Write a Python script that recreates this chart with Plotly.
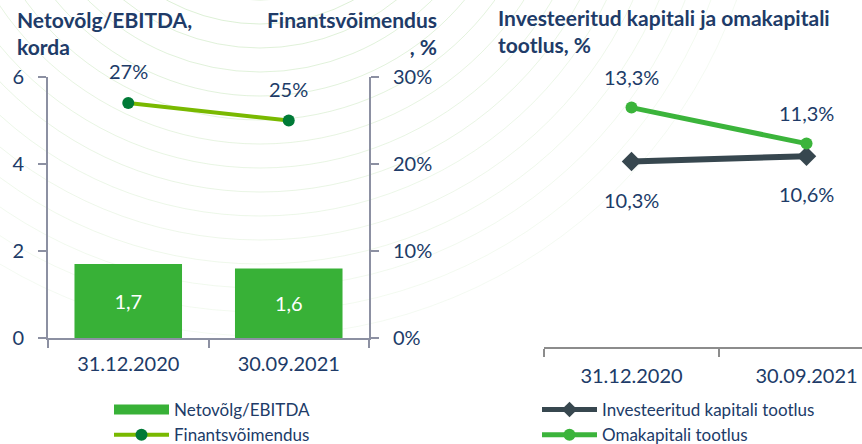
import plotly.graph_objects as go

# ---- data -------------------------------------------------------------
categories = ["31.12.2020", "30.09.2021"]
net_debt_ebitda = [1.7, 1.6]          # Netovõlg/EBITDA, korda
leverage_pct = [27, 25]               # Finantsvõimendus, %
roic_pct = [10.3, 10.6]               # Investeeritud kapitali tootlus, %
roe_pct = [13.3, 11.3]                # Omakapitali tootlus, %

# ---- style ------------------------------------------------------------
W, H = 862, 444
FONT = "Lato"
NAVY = "#203b68"
AXIS = "#8c90a2"
AXIS_R = "#8c8c8c"
BAR_GREEN = "#38b137"
LEV_LINE = "#79b900"
LEV_MARK = "#007a37"
ROE_GREEN = "#3bb43b"
ROIC_DARK = "#37474f"


def px(x):
    return x / W


def py(y):
    return 1 - y / H


def fmt(v, pct=False):
    if pct and float(v).is_integer():
        s = f"{int(v)}"
    else:
        s = f"{v:.1f}".replace(".", ",")
    return s + ("%" if pct else "")


fig = go.Figure()

# left panel: bars + leverage line on the secondary axis
fig.add_trace(go.Bar(
    x=categories, y=net_debt_ebitda, xaxis="x", yaxis="y",
    width=0.67, marker=dict(color=BAR_GREEN, line=dict(width=0)),
    text=[fmt(v) for v in net_debt_ebitda], textposition="inside",
    insidetextanchor="middle", textangle=0,
    textfont=dict(family=FONT, size=20, color="white"),
    showlegend=False, hoverinfo="skip",
))
# legend entry for the bars (wide swatch)
fig.add_trace(go.Scatter(
    x=[None], y=[None], xaxis="x", yaxis="y", mode="lines",
    line=dict(color=BAR_GREEN, width=12), name="Netovõlg/EBITDA",
    legend="legend",
))
fig.add_trace(go.Scatter(
    x=categories, y=leverage_pct, xaxis="x", yaxis="y2",
    mode="lines+markers", name="Finantsvõimendus", legend="legend",
    line=dict(color=LEV_LINE, width=4),
    marker=dict(color=LEV_MARK, size=12),
    hoverinfo="skip",
))

# right panel: return lines
fig.add_trace(go.Scatter(
    x=categories, y=roic_pct, xaxis="x3", yaxis="y3",
    mode="lines+markers", name="Investeeritud kapitali tootlus",
    legend="legend2",
    line=dict(color=ROIC_DARK, width=6),
    marker=dict(color=ROIC_DARK, size=15, symbol="diamond"),
    hoverinfo="skip",
))
fig.add_trace(go.Scatter(
    x=categories, y=roe_pct, xaxis="x3", yaxis="y3",
    mode="lines+markers", name="Omakapitali tootlus",
    legend="legend2",
    line=dict(color=ROE_GREEN, width=5),
    marker=dict(color=ROE_GREEN, size=12),
    hoverinfo="skip",
))

# value labels
label_font = dict(family=FONT, size=20, color=NAVY)
annotations = []
for c, v in zip(categories, leverage_pct):
    annotations.append(dict(x=c, y=v, xref="x", yref="y2", text=fmt(v, pct=True),
                            showarrow=False, yshift=32, font=label_font))
for c, v in zip(categories, roe_pct):
    annotations.append(dict(x=c, y=v, xref="x3", yref="y3", text=fmt(v, pct=True),
                            showarrow=False, yshift=31, font=label_font))
for c, v in zip(categories, roic_pct):
    annotations.append(dict(x=c, y=v, xref="x3", yref="y3", text=fmt(v, pct=True),
                            showarrow=False, yshift=-38, font=label_font))

# panel titles
title_font = dict(family=FONT, size=21, color=NAVY, weight="bold")
annotations += [
    dict(x=px(15), y=py(5), xref="paper", yref="paper", xanchor="left", yanchor="top",
         align="left", showarrow=False, text="Netovõlg/EBITDA,<br>korda", font=title_font),
    dict(x=px(439), y=py(5), xref="paper", yref="paper", xanchor="right", yanchor="top",
         align="right", showarrow=False, text="Finantsvõimendus<br>, %", font=title_font),
    dict(x=px(496), y=py(3), xref="paper", yref="paper", xanchor="left", yanchor="top",
         align="left", showarrow=False,
         text="Investeeritud kapitali ja omakapitali<br>tootlus, %", font=title_font),
]

# faint decorative arcs in the background
shapes = []
cx, cy = 260, -170
for i, r in enumerate(range(170, 520, 24)):
    alpha = max(0.07, 0.26 - i * 0.013)
    shapes.append(dict(
        type="circle", xref="paper", yref="paper", layer="below",
        x0=px(cx - r), x1=px(cx + r), y0=py(cy + r), y1=py(cy - r),
        line=dict(color=f"rgba(120,195,90,{alpha:.2f})", width=1),
    ))

tick_font = dict(family=FONT, size=20, color=NAVY)
axis_common = dict(showgrid=False, zeroline=False, showline=True, automargin=False,
                   ticks="outside", ticklen=8, tickfont=tick_font, fixedrange=True)
legend_common = dict(xanchor="left", yanchor="bottom", y=-9 / H, itemwidth=55,
                     tracegroupgap=0, bgcolor="rgba(0,0,0,0)",
                     font=dict(family=FONT, size=17, color=NAVY), itemclick=False)

fig.update_layout(
    width=W, height=H,
    margin=dict(l=0, r=0, t=0, b=0, autoexpand=False),
    paper_bgcolor="white", plot_bgcolor="rgba(0,0,0,0)",
    font=dict(family=FONT, color=NAVY),
    annotations=annotations,
    shapes=shapes,
    xaxis=dict(domain=[px(48), px(369)], type="category", range=[-0.5, 1.5],
               tickson="boundaries", anchor="y", linecolor=AXIS, linewidth=2,
               tickcolor=AXIS, tickwidth=2, ticklabelstandoff=7, **axis_common),
    yaxis=dict(domain=[py(338), py(77)], range=[0, 6], dtick=2, anchor="x",
               linecolor=AXIS, linewidth=2, tickcolor=AXIS, tickwidth=2,
               ticklabelstandoff=10, **axis_common),
    yaxis2=dict(overlaying="y", side="right", range=[0, 30], dtick=10,
                ticksuffix="%", anchor="x", linecolor=AXIS, linewidth=2,
                tickcolor=AXIS, tickwidth=2, ticklabelstandoff=10, **axis_common),
    xaxis3=dict(domain=[px(544), 1.0], type="category", range=[-0.5, 1.317],
                tickson="boundaries", anchor="y3", linecolor=AXIS_R, linewidth=2,
                tickcolor=AXIS_R, tickwidth=2, ticklabelstandoff=10, **axis_common),
    yaxis3=dict(domain=[py(347), py(95)], range=[0, 14], anchor="x3",
                visible=False, fixedrange=True),
    legend=dict(x=px(109), **legend_common),
    legend2=dict(x=px(537), itemsizing="constant", **legend_common),
)

fig.write_html("out.html")
